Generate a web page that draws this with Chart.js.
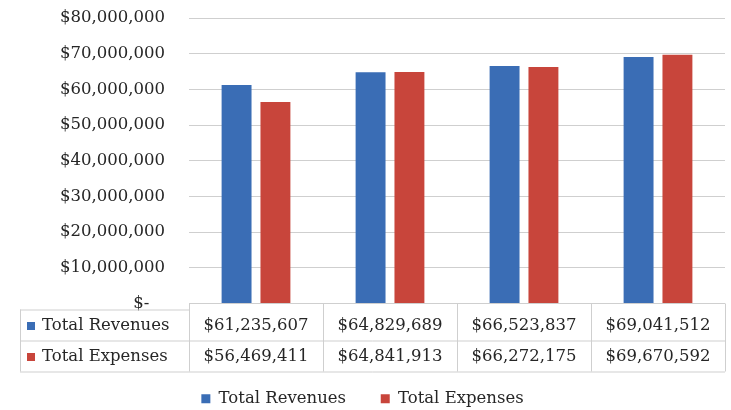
<!DOCTYPE html>
<html>
<head>
<meta charset="utf-8">
<script src="https://cdn.jsdelivr.net/npm/chart.js@4.4.0/dist/chart.umd.min.js"></script>
<style>
  html, body { margin: 0; padding: 0; background: #fff; }
  #wrap { width: 731px; height: 410px; }
</style>
</head>
<body>
<div id="wrap"><canvas id="budgetChart"></canvas></div>
<script>
const categories = ['Year 1', 'Year 2', 'Year 3', 'Year 4'];
const seriesNames = ['Total Revenues', 'Total Expenses'];
const revenues = [61235607, 64829689, 66523837, 69041512];
const expenses = [56469411, 64841913, 66272175, 69670592];
const yMin = 0;
const yMax = 80000000;
const yStep = 10000000;

const BLUE = '#3a6db5';
const RED = '#c8453b';
const FONT = "'DejaVu Serif', serif";
const TEXT = '#262626';
const LINE = '#cfcfcf';

function money(v) {
    if (v === 0) return '$-   ';
    return '$' + v.toLocaleString('en-US');
}

// Excel style data table drawn under the plot, in the space the x axis keeps free
const dataTable = {
    id: 'dataTable',
    afterDraw(chart) {
        const ctx = chart.ctx;
        const xs = chart.scales.x;
        const area = chart.chartArea;
        const n = chart.data.labels.length;
        const colW = xs.width / n;
        const rowH = 31;
        const tableLeft = 20;
        const labelTop = area.bottom + 6;
        const valTop = area.bottom;
        const bottom = labelTop + rowH * 2;

        ctx.save();
        ctx.strokeStyle = LINE;
        ctx.lineWidth = 1;
        ctx.beginPath();
        ctx.moveTo(tableLeft, labelTop + 0.5); ctx.lineTo(area.left, labelTop + 0.5);
        ctx.moveTo(tableLeft, labelTop + rowH + 0.5); ctx.lineTo(area.right, labelTop + rowH + 0.5);
        ctx.moveTo(tableLeft, bottom + 0.5); ctx.lineTo(area.right, bottom + 0.5);
        ctx.moveTo(tableLeft + 0.5, labelTop); ctx.lineTo(tableLeft + 0.5, bottom);
        for (let i = 0; i <= n; i++) {
            const cx = Math.round(xs.left + colW * i) + 0.5;
            ctx.moveTo(cx, valTop); ctx.lineTo(cx, bottom);
        }
        ctx.stroke();

        ctx.font = '16.5px ' + FONT;
        ctx.textBaseline = 'middle';
        chart.data.datasets.forEach((ds, r) => {
            const cy = labelTop + rowH * r + rowH / 2 + 1;
            ctx.fillStyle = ds.backgroundColor;
            ctx.fillRect(tableLeft + 7, cy - 4, 8, 8);
            ctx.fillStyle = TEXT;
            ctx.textAlign = 'left';
            ctx.fillText(ds.label, tableLeft + 22, cy);
            ctx.textAlign = 'center';
            ds.data.forEach((v, i) => {
                ctx.fillText('$' + v.toLocaleString('en-US'), xs.getPixelForValue(i), cy);
            });
        });
        ctx.restore();
    }
};

new Chart(document.getElementById('budgetChart'), {
    type: 'bar',
    data: {
        labels: categories,
        datasets: [
            { label: seriesNames[0], data: revenues, backgroundColor: BLUE },
            { label: seriesNames[1], data: expenses, backgroundColor: RED }
        ]
    },
    options: {
        responsive: true,
        maintainAspectRatio: false,
        animation: false,
        layout: { padding: { top: 18, right: 6, left: 0, bottom: -7 } },
        datasets: { bar: { categoryPercentage: 0.58, barPercentage: 0.77 } },
        scales: {
            x: {
                grid: { display: false },
                border: { display: false },
                ticks: { display: false },
                afterFit(scale) { scale.height = 68; }
            },
            y: {
                min: yMin,
                max: yMax,
                ticks: {
                    stepSize: yStep,
                    padding: 24,
                    color: TEXT,
                    font: { family: FONT, size: 16.5 },
                    callback: (v) => money(v)
                },
                grid: { color: LINE, drawTicks: false },
                border: { display: false },
                afterFit(scale) {
                    scale.width = 189;
                    // tick padding would otherwise push the plot down
                    scale.paddingTop = 0;
                    scale.paddingBottom = 0;
                }
            }
        },
        plugins: {
            legend: {
                position: 'bottom',
                labels: {
                    boxWidth: 9,
                    boxHeight: 9,
                    padding: 19,
                    color: TEXT,
                    font: { family: FONT, size: 16.5 },
                    generateLabels(chart) {
                        const items = Chart.defaults.plugins.legend.labels.generateLabels(chart);
                        // wider gap after the first entry, as in the source
                        items[0].text += '   ';
                        return items;
                    }
                }
            },
            tooltip: { enabled: false }
        }
    },
    plugins: [dataTable]
});
</script>
</body>
</html>
